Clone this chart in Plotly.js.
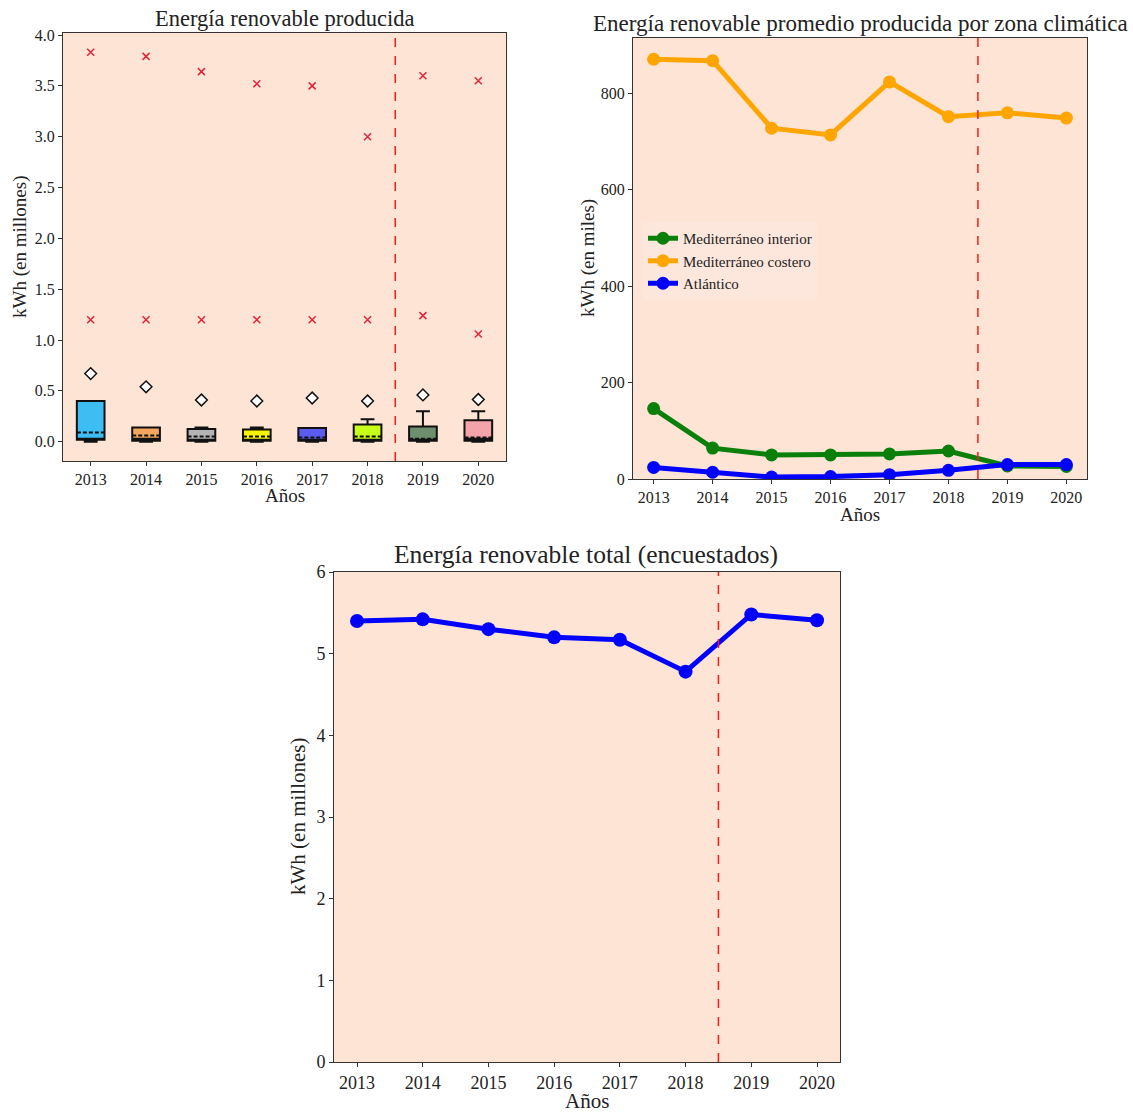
<!DOCTYPE html>
<html>
<head>
<meta charset="utf-8">
<script src="https://cdn.plot.ly/plotly-3.0.1.min.js"></script>
<style>
  html, body { margin: 0; padding: 0; background: #ffffff; }
  #chart { width: 1133px; height: 1113px; }
</style>
</head>
<body>
<div id="chart"></div>
<script>
// Años de la encuesta
const years = [2013, 2014, 2015, 2016, 2017, 2018, 2019, 2020];

// Panel 1: distribución de energía producida por encuestado (millones de kWh)
const boxLower  = [0.00, 0.00, 0.00, 0.00, 0.00, 0.00, 0.00, 0.00];
const boxQ1     = [0.02, 0.01, 0.01, 0.01, 0.01, 0.01, 0.01, 0.01];
const boxMedian = [0.03, 0.03, 0.02, 0.02, 0.02, 0.02, 0.02, 0.03];
const boxMean   = [0.09, 0.06, 0.05, 0.05, 0.04, 0.05, 0.03, 0.04];
const boxQ3     = [0.40, 0.14, 0.125, 0.12, 0.135, 0.17, 0.15, 0.21];
const boxUpper  = [0.40, 0.14, 0.14, 0.14, 0.135, 0.22, 0.30, 0.30];
const diamondVals = [0.67, 0.54, 0.41, 0.40, 0.43, 0.40, 0.46, 0.415];
const outlierHigh = [3.83, 3.79, 3.64, 3.52, 3.50, 3.00, 3.60, 3.55];
const outlierLow  = [1.20, 1.20, 1.20, 1.20, 1.20, 1.20, 1.24, 1.06];
const boxColors = ['#3dbdf2', '#f2a65e', '#b4b4b4', '#f5f500', '#5b5bef', '#c8ff1a', '#6e8f6e', '#f4a3aa'];

// Panel 2: promedio por zona climática (miles de kWh)
const zoneNames = ['Mediterráneo interior', 'Mediterráneo costero', 'Atlántico'];
const medInterior = [146, 64, 50, 50, 52, 58, 27, 26];
const medCostero  = [870, 867, 727, 713, 823, 751, 759, 748];
const atlantico   = [24, 14, 4, 5, 9, 18, 30, 30];
const zoneColors = ['#0a800a', '#ffa500', '#0000ff'];

// Panel 3: total de los encuestados (millones de kWh)
const totalVals = [5.40, 5.42, 5.30, 5.20, 5.17, 4.78, 5.48, 5.41];

// Año de corte marcado con línea discontinua
const cutYear = 2018.5;

const W = 1133, H = 1113;
const px = v => v / W;
const py = v => 1 - v / H;

const FONT = 'Liberation Serif, DejaVu Serif, serif';
const BG = '#fde4d5';
const INK = '#222222';

const traces = [];

// Cajas
years.forEach((yr, i) => {
  traces.push({
    type: 'box', xaxis: 'x', yaxis: 'y',
    x: [yr],
    q1: [boxQ1[i]], median: [boxMedian[i]], q3: [boxQ3[i]],
    lowerfence: [boxLower[i]], upperfence: [boxUpper[i]],
    mean: [boxMean[i]], boxmean: true,
    boxpoints: false,
    width: 0.5, whiskerwidth: 0.5,
    fillcolor: boxColors[i],
    line: { color: '#111111', width: 2 },
    showlegend: false, hoverinfo: 'skip'
  });
});

traces.push({
  type: 'scatter', mode: 'markers', xaxis: 'x', yaxis: 'y',
  x: years, y: diamondVals,
  marker: { symbol: 'diamond', size: 9, color: '#ffffff', line: { color: '#111111', width: 1.5 } },
  showlegend: false, hoverinfo: 'skip'
});
traces.push({
  type: 'scatter', mode: 'markers', xaxis: 'x', yaxis: 'y',
  x: years, y: outlierHigh,
  marker: { symbol: 'x-thin-open', size: 7, color: '#e3243b', line: { color: '#e3243b', width: 1.5 } },
  showlegend: false, hoverinfo: 'skip'
});
traces.push({
  type: 'scatter', mode: 'markers', xaxis: 'x', yaxis: 'y',
  x: years, y: outlierLow,
  marker: { symbol: 'x-thin-open', size: 7, color: '#e3243b', line: { color: '#e3243b', width: 1.5 } },
  showlegend: false, hoverinfo: 'skip'
});

// Zonas climáticas
[medInterior, medCostero, atlantico].forEach((vals, i) => {
  traces.push({
    type: 'scatter', mode: 'lines+markers', xaxis: 'x2', yaxis: 'y2',
    x: years, y: vals, name: zoneNames[i],
    line: { color: zoneColors[i], width: 5 },
    marker: { color: zoneColors[i], size: 13 },
    hoverinfo: 'skip'
  });
});

// Total
traces.push({
  type: 'scatter', mode: 'lines+markers', xaxis: 'x3', yaxis: 'y3',
  x: years, y: totalVals,
  line: { color: '#0000ff', width: 5 },
  marker: { color: '#0000ff', size: 14 },
  showlegend: false, hoverinfo: 'skip'
});

function axis(fontSize, extra) {
  return Object.assign({
    showgrid: false, zeroline: false,
    showline: true, mirror: true, linecolor: '#333333', linewidth: 1,
    ticks: 'outside', ticklen: 4, tickcolor: '#333333',
    tickfont: { family: FONT, size: fontSize, color: INK },
    fixedrange: true
  }, extra);
}

const layout = {
  width: W, height: H,
  margin: { l: 0, r: 0, t: 0, b: 0 },
  paper_bgcolor: '#ffffff',
  plot_bgcolor: BG,
  boxmode: 'overlay',
  showlegend: true,
  legend: {
    x: px(643), y: py(222), xanchor: 'left', yanchor: 'top',
    bgcolor: 'rgba(253,232,222,0.85)', borderwidth: 0,
    font: { family: FONT, size: 15, color: INK },
    itemwidth: 30, tracegroupgap: 0
  },
  xaxis: axis(16, {
    domain: [px(63), px(506)], anchor: 'y',
    range: [2012.5, 2020.5], tickvals: years, ticktext: years.map(String)
  }),
  yaxis: axis(16, {
    domain: [py(461), py(33)], anchor: 'x',
    range: [-0.19, 4.02], tickvals: [0, 0.5, 1, 1.5, 2, 2.5, 3, 3.5, 4],
    ticktext: ['0.0', '0.5', '1.0', '1.5', '2.0', '2.5', '3.0', '3.5', '4.0']
  }),
  xaxis2: axis(16, {
    domain: [px(633), px(1087)], anchor: 'y2',
    range: [2012.65, 2020.35], tickvals: years, ticktext: years.map(String)
  }),
  yaxis2: axis(16, {
    domain: [py(479), py(38)], anchor: 'x2',
    range: [0, 914], tickvals: [0, 200, 400, 600, 800]
  }),
  xaxis3: axis(18, {
    domain: [px(334), px(840)], anchor: 'y3',
    range: [2012.65, 2020.35], tickvals: years, ticktext: years.map(String)
  }),
  yaxis3: axis(18, {
    domain: [py(1062), py(572)], anchor: 'x3',
    range: [0, 6], tickvals: [0, 1, 2, 3, 4, 5, 6]
  }),
  shapes: ['x', 'x2', 'x3'].map((xr, i) => ({
    type: 'line', xref: xr, yref: (i === 0 ? 'y' : 'y' + (i + 1)) + ' domain',
    x0: cutYear, x1: cutYear, y0: 0, y1: 1,
    line: { color: '#ff1a1a', width: 1.5, dash: 'dash' }
  })),
  annotations: [
    // Títulos de los paneles
    { text: 'Energía renovable producida', x: px(284.5), y: py(19), font: { size: 22.5 } },
    { text: 'Energía renovable promedio producida por zona climática', x: px(860), y: py(23), font: { size: 23 } },
    { text: 'Energía renovable total (encuestados)', x: px(586), y: py(555), font: { size: 25.5 } },
    // Títulos de ejes
    { text: 'Años', x: px(284.5), y: py(495), font: { size: 19 } },
    { text: 'Años', x: px(860), y: py(514), font: { size: 19 } },
    { text: 'Años', x: px(587), y: py(1101), font: { size: 21 } },
    { text: 'kWh (en millones)', x: px(20), y: py(247), textangle: -90, font: { size: 19 } },
    { text: 'kWh (en miles)', x: px(588), y: py(258), textangle: -90, font: { size: 19 } },
    { text: 'kWh (en millones)', x: px(298), y: py(817), textangle: -90, font: { size: 21 } }
  ].map(a => Object.assign({
    xref: 'paper', yref: 'paper', showarrow: false,
    xanchor: 'center', yanchor: 'middle'
  }, a, { font: Object.assign({ family: FONT, color: INK }, a.font) }))
};

Plotly.newPlot('chart', traces, layout, { staticPlot: true, displayModeBar: false });
</script>
</body>
</html>
